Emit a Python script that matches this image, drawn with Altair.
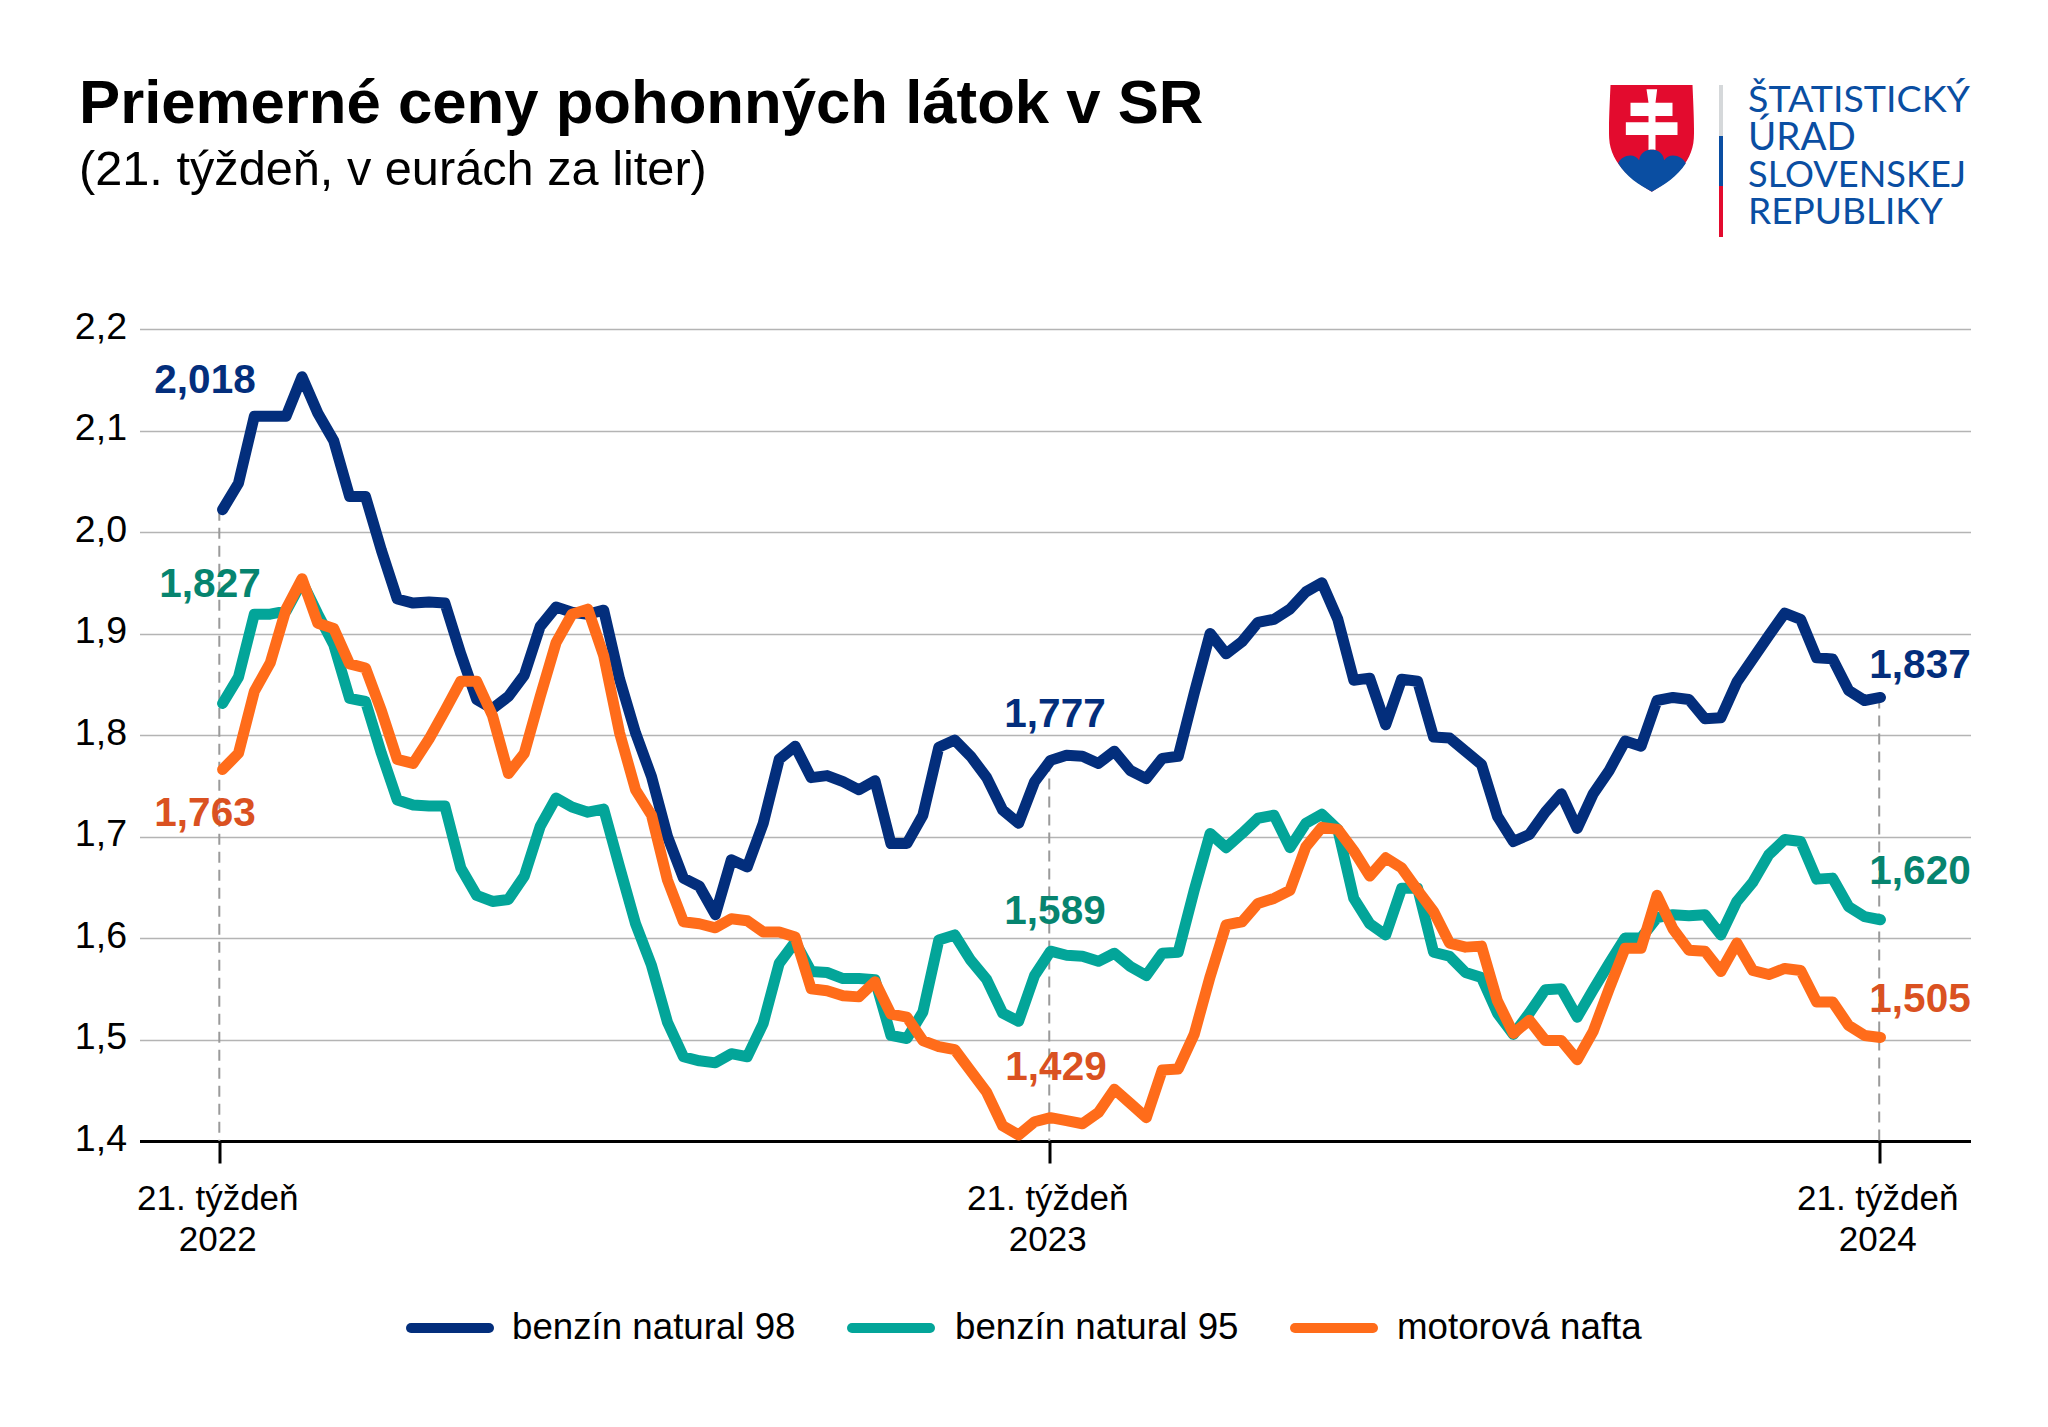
import base64
import altair as alt
import pandas as pd

title_text = "Priemerné ceny pohonných látok v SR"
subtitle_text = "(21. týždeň, v eurách za liter)"
series_names = ["benzín natural 98", "benzín natural 95", "motorová nafta"]
tick_weeks = [0, 52, 104]
tick_years = ["2022", "2023", "2024"]
y_ticks = [1.4, 1.5, 1.6, 1.7, 1.8, 1.9, 2.0, 2.1, 2.2]

natural98 = [2.022, 2.048, 2.114, 2.114, 2.114, 2.153, 2.117, 2.090, 2.035, 2.035,
             1.982, 1.934, 1.930, 1.931, 1.930, 1.880, 1.835, 1.826, 1.838, 1.859,
             1.907, 1.926, 1.921, 1.919, 1.923, 1.855, 1.802, 1.759, 1.700, 1.659,
             1.651, 1.623, 1.677, 1.670, 1.713, 1.776, 1.789, 1.758, 1.760, 1.754,
             1.746, 1.755, 1.693, 1.693, 1.721, 1.788, 1.795, 1.779, 1.758, 1.726,
             1.713, 1.754, 1.775, 1.780, 1.779, 1.772, 1.784, 1.765, 1.757, 1.777,
             1.779, 1.841, 1.900, 1.880, 1.892, 1.911, 1.914, 1.924, 1.941, 1.950,
             1.914, 1.854, 1.856, 1.810, 1.855, 1.853, 1.798, 1.797, 1.784, 1.771,
             1.720, 1.695, 1.702, 1.724, 1.742, 1.708, 1.742, 1.765, 1.794, 1.789,
             1.834, 1.837, 1.835, 1.816, 1.817, 1.852, 1.875, 1.898, 1.920, 1.914,
             1.876, 1.875, 1.844, 1.834, 1.837]
natural95 = [1.831, 1.857, 1.919, 1.919, 1.922, 1.951, 1.919, 1.889, 1.836, 1.833,
             1.782, 1.736, 1.731, 1.730, 1.730, 1.669, 1.642, 1.636, 1.638, 1.661,
             1.710, 1.738, 1.729, 1.724, 1.727, 1.670, 1.614, 1.573, 1.517, 1.483,
             1.479, 1.477, 1.486, 1.483, 1.516, 1.575, 1.596, 1.567, 1.566, 1.560,
             1.560, 1.559, 1.504, 1.501, 1.527, 1.598, 1.603, 1.578, 1.559, 1.526,
             1.518, 1.563, 1.587, 1.583, 1.582, 1.577, 1.585, 1.572, 1.563, 1.585,
             1.586, 1.647, 1.703, 1.689, 1.703, 1.718, 1.721, 1.689, 1.713, 1.722,
             1.707, 1.639, 1.614, 1.603, 1.649, 1.649, 1.586, 1.582, 1.566, 1.561,
             1.526, 1.505, 1.526, 1.549, 1.550, 1.522, 1.549, 1.575, 1.600, 1.600,
             1.620, 1.623, 1.622, 1.623, 1.603, 1.636, 1.655, 1.682, 1.697, 1.695,
             1.658, 1.659, 1.631, 1.621, 1.618]
nafta = [1.766, 1.782, 1.843, 1.871, 1.924, 1.954, 1.910, 1.905, 1.870, 1.866,
         1.824, 1.776, 1.772, 1.796, 1.824, 1.853, 1.853, 1.819, 1.762, 1.782,
         1.838, 1.891, 1.919, 1.924, 1.878, 1.802, 1.746, 1.721, 1.657, 1.616,
         1.614, 1.610, 1.619, 1.617, 1.606, 1.606, 1.601, 1.550, 1.548, 1.543,
         1.542, 1.557, 1.525, 1.522, 1.499, 1.493, 1.490, 1.469, 1.448, 1.415,
         1.406, 1.419, 1.423, 1.420, 1.417, 1.428, 1.451, 1.437, 1.423, 1.470,
         1.471, 1.505, 1.562, 1.613, 1.616, 1.634, 1.639, 1.647, 1.690, 1.709,
         1.707, 1.686, 1.661, 1.679, 1.669, 1.647, 1.626, 1.595, 1.591, 1.592,
         1.538, 1.506, 1.519, 1.499, 1.499, 1.480, 1.508, 1.550, 1.590, 1.590,
         1.642, 1.609, 1.588, 1.587, 1.567, 1.595, 1.568, 1.564, 1.570, 1.568,
         1.537, 1.537, 1.514, 1.504, 1.502]

label_texts = ["2,018", "1,827", "1,763", "1,777", "1,589", "1,429", "1,837", "1,620", "1,505"]
label_series = [0, 1, 2, 0, 1, 2, 0, 1, 2]
logo_lines = ["ŠTATISTICKÝ", "ÚRAD", "SLOVENSKEJ", "REPUBLIKY"]

# layout (page pixels)
LEFT, TOP = 139.5, 329.0
W, H = 1831, 812
FONT = "Liberation Sans"
NAVY, TEAL, ORANGE = "#032E7C", "#03A599", "#FF6C1A"
LABEL_COLORS = ["#032E7C", "#06846F", "#DA5121"]
LOGO_BLUE = "#0A4EA2"
LOGO_RED = "#E30B2E"
GRID = "#B4B4B4"


def px(v):
    return v - LEFT


def py(v):
    return v - TOP


x_scale = alt.Scale(domain=[-5, 109.72], nice=False, zero=False)
y_scale = alt.Scale(domain=[1.4, 2.2], nice=False, zero=False)

year_expr = "[" + ",".join(f"'{y}'" for y in tick_years) + "]"
x_axis = alt.Axis(
    values=tick_weeks, title=None, grid=False,
    labelExpr=f"['21. týždeň', {year_expr}[indexof({tick_weeks}, datum.value)]]",
    labelFont=FONT, labelFontSize=35, labelColor="#000000", labelPadding=18,
    labelLineHeight=41, labelBaseline="top", labelAngle=0, labelOffset=-2,
    domainColor="#000000", domainWidth=3, tickColor="#000000", tickWidth=3, tickSize=22,
)
y_axis = alt.Axis(
    values=y_ticks, title=None, domain=False, ticks=False,
    labelExpr="replace(format(datum.value, '.1f'), '.', ',')",
    labelFont=FONT, labelFontSize=37.5, labelColor="#000000", labelPadding=13,
    labelOffset=-2, gridColor=GRID, gridWidth=1.7, labelBaseline="middle",
)

# the drawn lines sit very slightly right of the tick positions, more so at the start
weeks = [i + 0.08 + max(0, 25 - i) * 0.005 for i in range(len(natural98))]
all_series = [natural98, natural95, nafta]
colors = [NAVY, TEAL, ORANGE]

# base: axes and grid
base = alt.Chart(pd.DataFrame({"w": weeks, "v": natural98})).mark_line(opacity=0).encode(
    x=alt.X("w:Q", scale=x_scale, axis=x_axis),
    y=alt.Y("v:Q", scale=y_scale, axis=y_axis),
)

# dashed guide lines
guide_rows = [{"w": w, "v": natural98[w], "bottom": y_ticks[0]} for w in tick_weeks]
guides = alt.Chart(pd.DataFrame(guide_rows)).mark_rule(
    color="#9A9A9A", strokeWidth=2, strokeDash=[11, 7]
).encode(
    x=alt.X("w:Q", scale=x_scale),
    y=alt.Y("v:Q", scale=y_scale),
    y2="bottom:Q",
)

lines = [
    alt.Chart(pd.DataFrame({"w": weeks, "v": s})).mark_line(
        color=c, strokeWidth=11, strokeCap="round", strokeJoin="round"
    ).encode(
        x=alt.X("w:Q", scale=x_scale),
        y=alt.Y("v:Q", scale=y_scale),
    )
    for s, c in zip(all_series, colors)
]


def text_at(t, x, y, **mark):
    """A text placed at page pixels, independent of the data scales."""
    mark.setdefault("font", FONT)
    return alt.Chart(pd.DataFrame({"t": [t]})).mark_text(**mark).encode(
        x=alt.value(px(x)), y=alt.value(py(y)), text="t:N"
    )


title = text_at(title_text, 79, 123, fontSize=61.7, fontWeight="bold", align="left",
                baseline="alphabetic", color="#000000")
subtitle = text_at(subtitle_text, 79, 185, fontSize=48.7, align="left",
                   baseline="alphabetic", color="#000000")

label_xy = [(205, 381), (210, 585), (205, 814), (1055, 715), (1055, 912), (1056, 1068),
            (1920, 666), (1920, 872), (1920, 1000)]
label_layers = [
    text_at(t, x, y, fontSize=40.5, fontWeight="bold", align="center", baseline="middle",
            color=LABEL_COLORS[s])
    for t, s, (x, y) in zip(label_texts, label_series, label_xy)
]

# legend
legend_spec = [(411, 489, 512), (852, 930, 955), (1295, 1373, 1397)]
legend_y = 1328
legend_layers = []
for name, c, (x0, x1, xt) in zip(series_names, colors, legend_spec):
    legend_layers.append(
        alt.Chart(pd.DataFrame({"k": [0]})).mark_rule(
            color=c, strokeWidth=10, strokeCap="round"
        ).encode(x=alt.value(px(x0)), x2=alt.value(px(x1)), y=alt.value(py(legend_y)))
    )
    legend_layers.append(
        text_at(name, xt, legend_y, fontSize=36.7, align="left", baseline="middle", color="#000000")
    )

# logo text
logo_y = [101, 138, 176, 213]
logo_sizes = [37.6, 38.5, 36.2, 37]
logo_layers = [
    text_at(t, 1748, y, font="Lato", fontSize=s, align="left", baseline="middle", color=LOGO_BLUE)
    for t, y, s in zip(logo_lines, logo_y, logo_sizes)
]

# logo divider
bar_rows = [(85, 136, "#D5D8DA"), (136, 186, LOGO_BLUE), (186, 237, LOGO_RED)]
bars = [
    alt.Chart(pd.DataFrame({"k": [0]})).mark_rule(color=c, strokeWidth=4).encode(
        x=alt.value(px(1721)), y=alt.value(py(y0)), y2=alt.value(py(y1))
    )
    for y0, y1, c in bar_rows
]

# shield emblem
shield_svg = f"""<svg xmlns='http://www.w3.org/2000/svg' viewBox='-2 0 258 321' width='258' height='321'>
<path fill='{LOGO_RED}' d='M4 0H250C252 50 256 120 254 160C250 240 180 290 128 320C76 290 4 240 0 160C-2 120 2 50 4 0Z'/>
<path fill='{LOGO_BLUE}' d='M27 235C35 212 75 200 90 226C95 183 160 183 165 226C180 200 220 212 230 235C205 275 165 300 128 320C90 300 50 275 27 235Z'/>
<path fill='#FFFFFF' d='M112 13H144L139 53H190V93H139V112H205V150H139V195C131 193 125 193 118 195V150H50V112H118V93H64V53H118Z'/>
</svg>"""
uri = "data:image/svg+xml;base64," + base64.b64encode(shield_svg.encode("utf-8")).decode("ascii")
shield = alt.Chart(pd.DataFrame({"url": [uri]})).mark_image(width=86, height=107).encode(
    x=alt.value(px(1651.5)), y=alt.value(py(138.5)), url="url:N"
)

chart = alt.layer(
    base, guides, *lines, title, subtitle, *label_layers, *legend_layers, *logo_layers, *bars, shield
).properties(
    width=W, height=H,
    autosize=alt.AutoSizeParams(type="none"),
    padding={"left": LEFT - 8, "top": TOP - 8, "right": 2040 - LEFT - W, "bottom": 1400 - TOP - H},
    background="#FFFFFF",
).configure_view(stroke=None)

chart.save("out.html", embed_options={"renderer": "svg", "actions": False})
